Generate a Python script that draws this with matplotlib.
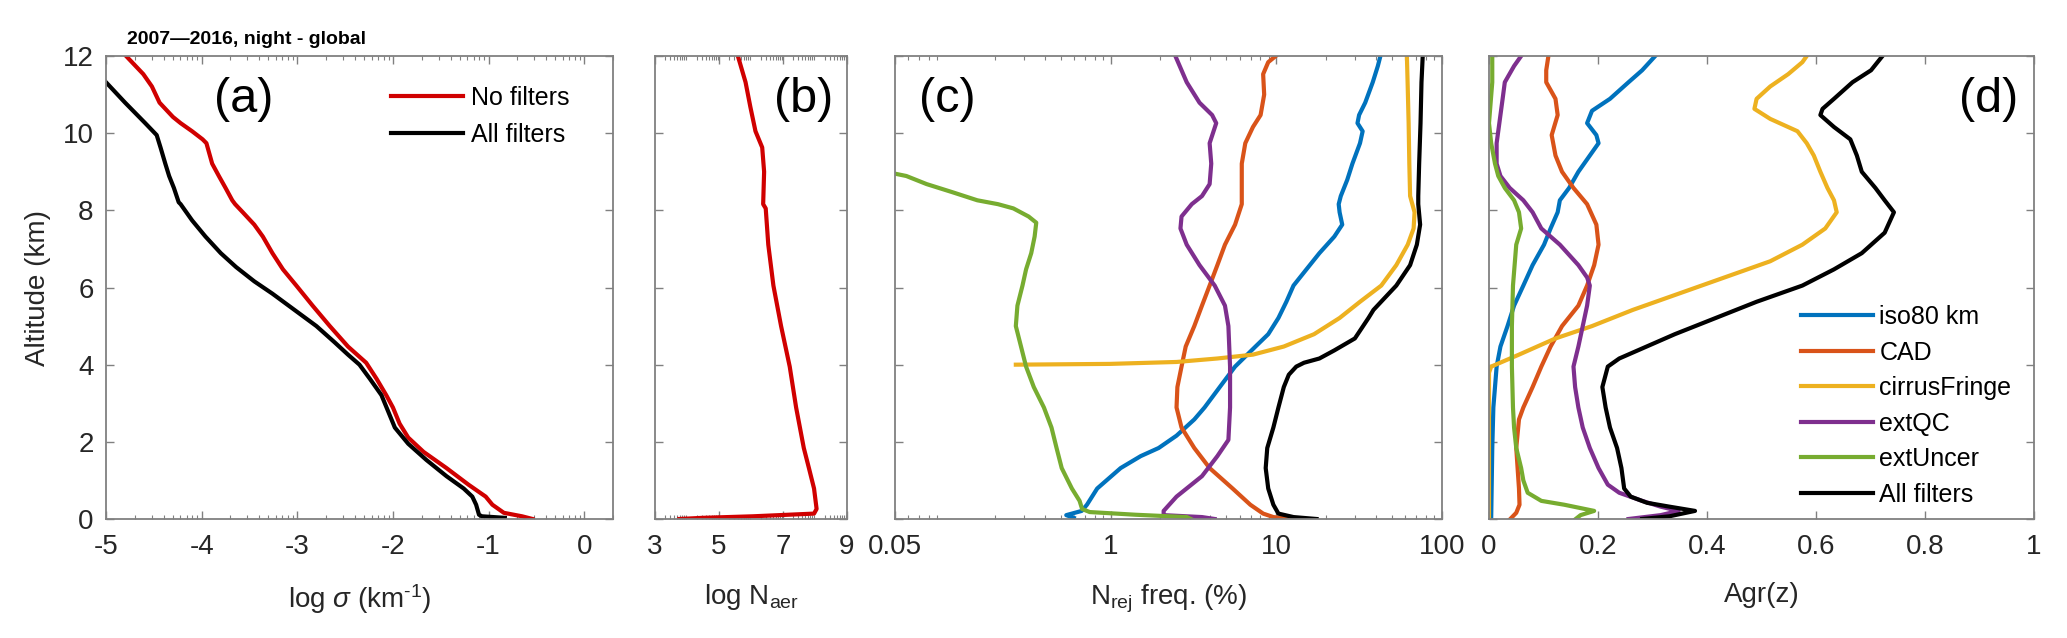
import numpy as np
import matplotlib
matplotlib.use("Agg")
import matplotlib.pyplot as plt
from matplotlib.ticker import LogLocator, NullFormatter, FixedLocator

plt.rcParams['font.family'] = ['Liberation Sans', 'DejaVu Sans']
plt.rcParams['mathtext.fontset'] = 'custom'
plt.rcParams['mathtext.rm'] = 'Liberation Sans'
plt.rcParams['mathtext.it'] = 'Liberation Sans:italic'
plt.rcParams['mathtext.bf'] = 'Liberation Sans:bold'

# ---------------- DATA ----------------
# (a) log10 extinction (km-1) vs altitude
a_nofilt_alt = [12.0, 11.53, 11.21, 10.79, 10.42, 10.26, 10.05, 9.84, 9.74, 9.21, 8.89, 8.58, 8.26, 8.16,
                7.95, 7.63, 7.32, 6.89, 6.47, 6.05, 5.53, 5.00, 4.47, 4.05, 3.63, 3.21, 2.89, 2.47, 2.11,
                1.74, 1.32, 0.89, 0.58, 0.37, 0.16, 0.07, 0.0]
a_nofilt_val = [-4.79, -4.61, -4.52, -4.44, -4.30, -4.22, -4.10, -3.99, -3.95, -3.89, -3.82, -3.75, -3.68, -3.65,
                -3.57, -3.45, -3.36, -3.26, -3.15, -3.01, -2.84, -2.66, -2.47, -2.28, -2.17, -2.07, -2.00, -1.93, -1.84,
                -1.68, -1.44, -1.21, -1.03, -0.96, -0.84, -0.65, -0.54]
a_allfilt_alt = [11.32, 10.79, 10.26, 9.95, 9.63, 9.21, 8.89, 8.58, 8.21, 8.16, 7.74, 7.32, 6.89, 6.53, 6.16,
                 5.84, 5.42, 5.00, 4.58, 4.26, 4.00, 3.63, 3.21, 2.79, 2.37, 1.95, 1.53, 1.11, 0.79, 0.58, 0.37,
                 0.11, 0.07, 0.03]
a_allfilt_val = [-5.0, -4.80, -4.59, -4.47, -4.43, -4.38, -4.34, -4.29, -4.24, -4.22, -4.10, -3.96, -3.80, -3.64, -3.45,
                 -3.26, -3.03, -2.80, -2.61, -2.47, -2.35, -2.24, -2.12, -2.05, -1.98, -1.84, -1.65, -1.44, -1.26, -1.17, -1.13,
                 -1.10, -1.07, -0.83]

# (b) log10 N_aer vs altitude
b_alt = [12.0, 11.32, 10.68, 10.05, 9.63, 9.0, 8.16, 8.05, 7.11, 6.05, 5.0, 3.95, 2.89, 1.84, 1.32, 0.79,
         0.26, 0.14, 0.07, 0.03, 0.0]
b_val = [5.59, 5.83, 5.98, 6.14, 6.35, 6.41, 6.38, 6.46, 6.54, 6.70, 6.94, 7.21, 7.41, 7.65, 7.81, 7.97,
         8.05, 7.97, 6.06, 4.48, 3.76]

# (c) rejection frequency (%) vs altitude
c_iso_alt = [12.0, 11.74, 11.32, 10.79, 10.47, 10.26, 10.05, 9.74, 9.21, 8.79, 8.37, 8.16, 7.95, 7.63, 7.32,
             6.89, 6.47, 6.05, 5.63, 5.21, 4.79, 4.47, 3.95, 3.42, 2.89, 2.58, 2.16, 1.84, 1.63, 1.32, 0.79,
             0.37, 0.21, 0.10, 0.03]
c_iso_val = [42.5, 41.0, 38.2, 34.4, 31.6, 30.9, 33.2, 32.0, 28.8, 26.8, 24.5, 23.8, 24.1, 25.0, 22.4,
             18.2, 15.2, 12.7, 11.5, 10.3, 8.94, 7.49, 5.64, 4.56, 3.69, 3.20, 2.50, 1.95, 1.52, 1.15, 0.83,
             0.72, 0.67, 0.54, 0.60]
c_cad_alt = [12.0, 11.84, 11.53, 11.0, 10.47, 10.16, 9.74, 9.21, 8.68, 8.16, 7.63, 7.11, 6.58, 6.05, 5.53,
             5.0, 4.47, 3.95, 3.42, 2.89, 2.37, 1.84, 1.32, 0.79, 0.37, 0.14, 0.05, 0.0]
c_cad_val = [9.93, 8.94, 8.33, 8.45, 8.04, 7.23, 6.50, 6.19, 6.19, 6.19, 5.64, 4.90, 4.41, 3.96, 3.56,
             3.20, 2.84, 2.68, 2.53, 2.50, 2.68, 3.20, 3.96, 5.45, 6.97, 8.33, 9.6, 12.3]
c_cf_alt = [12.0, 11.32, 10.26, 9.21, 8.37, 7.95, 7.53, 7.11, 6.58, 6.05, 5.63, 5.21, 4.79, 4.47, 4.26,
            4.16, 4.07, 4.02, 4.0]
c_cf_val = [61.4, 62.0, 62.9, 63.5, 64.2, 68.3, 67.4, 62.1, 53.0, 43.0, 32.0, 24.1, 16.9, 11.1, 7.23,
            4.41, 2.50, 0.99, 0.268]
c_qc_alt = [12.0, 11.32, 10.79, 10.47, 10.26, 9.74, 9.21, 8.68, 8.37, 8.16, 7.84, 7.53, 7.11, 6.58, 6.05,
            5.53, 5.0, 3.95, 2.89, 2.05, 1.63, 1.11, 0.58, 0.21, 0.10, 0.05, 0.0]
c_qc_val = [2.46, 2.88, 3.44, 4.10, 4.34, 3.96, 4.05, 3.96, 3.56, 3.09, 2.68, 2.64, 2.88, 3.44, 4.25,
            4.90, 5.14, 5.26, 5.26, 5.14, 4.41, 3.56, 2.50, 2.09, 2.09, 3.56, 4.25]
c_unc_alt = [8.95, 8.89, 8.68, 8.47, 8.26, 8.16, 8.05, 7.84, 7.68, 7.32, 6.89, 6.47, 6.05, 5.53, 5.0,
             4.47, 3.95, 3.42, 2.89, 2.37, 1.84, 1.32, 0.79, 0.47, 0.26, 0.18, 0.11, 0.05, 0.0]
c_unc_val = [0.05, 0.0585, 0.0776, 0.111, 0.157, 0.209, 0.259, 0.32, 0.356, 0.348, 0.332, 0.309, 0.294, 0.274, 0.268,
             0.288, 0.309, 0.344, 0.396, 0.44, 0.472, 0.507, 0.584, 0.65, 0.673, 0.748, 1.42, 2.88, 3.05]
c_all_alt = [12.0, 11.32, 10.26, 9.21, 8.37, 8.16, 7.63, 7.11, 6.58, 6.05, 5.42, 5.21, 4.68, 4.37, 4.16,
             4.05, 3.95, 3.74, 3.42, 2.89, 2.37, 1.84, 1.32, 0.79, 0.37, 0.14, 0.05, 0.0]
c_all_val = [76.5, 75.2, 74.2, 72.8, 71.9, 71.9, 73.8, 70.5, 64.2, 53.0, 38.6, 36.0, 29.8, 22.4, 18.2,
             14.7, 13.2, 11.9, 11.1, 10.3, 9.6, 8.82, 8.63, 8.94, 9.6, 10.3, 12.7, 17.5]

# (d) Agr(z) vs altitude
d_iso_alt = [12.0, 11.63, 11.32, 10.89, 10.58, 10.26, 9.95, 9.74, 9.42, 9.0, 8.58, 8.26, 7.95, 7.53, 7.11,
             6.58, 6.05, 5.53, 5.0, 4.47, 3.95, 2.89, 1.84, 0.0]
d_iso_val = [0.305, 0.281, 0.256, 0.222, 0.189, 0.180, 0.197, 0.201, 0.185, 0.164, 0.147, 0.130, 0.126, 0.113, 0.101,
             0.080, 0.063, 0.046, 0.034, 0.021, 0.014, 0.008, 0.006, 0.004]
d_cad_alt = [12.0, 11.63, 11.32, 10.89, 10.47, 9.95, 9.42, 9.0, 8.58, 8.16, 7.63, 7.11, 6.58, 6.05, 5.53,
             5.0, 4.47, 3.95, 3.42, 2.89, 2.58, 1.84, 0.79, 0.37, 0.16, 0.0]
d_cad_val = [0.109, 0.105, 0.105, 0.122, 0.126, 0.115, 0.122, 0.134, 0.155, 0.180, 0.197, 0.201, 0.193, 0.180, 0.164,
             0.134, 0.113, 0.096, 0.080, 0.063, 0.055, 0.050, 0.055, 0.056, 0.050, 0.039]
d_cf_alt = [12.0, 11.84, 11.53, 11.21, 10.89, 10.63, 10.37, 10.05, 9.74, 9.42, 9.0, 8.58, 8.26, 7.95, 7.53,
            7.11, 6.68, 6.26, 5.84, 5.42, 5.0, 4.68, 4.26, 3.95, 3.79, 0.0]
d_cf_val = [0.583, 0.575, 0.549, 0.516, 0.491, 0.487, 0.516, 0.566, 0.583, 0.596, 0.608, 0.621, 0.633, 0.638, 0.617,
            0.575, 0.516, 0.432, 0.348, 0.264, 0.189, 0.122, 0.055, 0.004, 0.0, 0.0]
d_qc_alt = [12.0, 11.74, 11.32, 10.89, 10.26, 9.74, 9.21, 8.89, 8.58, 8.26, 7.95, 7.53, 7.11, 6.58, 6.26,
            6.05, 5.53, 5.0, 4.47, 3.95, 3.42, 2.89, 2.37, 1.84, 1.32, 0.89, 0.68, 0.47, 0.32, 0.21, 0.10, 0.0]
d_qc_val = [0.059, 0.046, 0.029, 0.025, 0.019, 0.014, 0.014, 0.021, 0.038, 0.063, 0.080, 0.096, 0.130, 0.164, 0.180,
            0.185, 0.180, 0.172, 0.164, 0.155, 0.158, 0.164, 0.172, 0.185, 0.201, 0.218, 0.239, 0.281, 0.315, 0.348, 0.315, 0.256]
d_unc_alt = [12.0, 11.32, 10.79, 10.26, 9.74, 9.21, 8.89, 8.58, 8.26, 7.95, 7.53, 7.11, 6.05, 5.0, 3.95,
             2.89, 2.37, 1.84, 1.32, 1.0, 0.68, 0.47, 0.37, 0.21, 0.10, 0.0]
d_unc_val = [0.006, 0.006, 0.003, 0.0, 0.004, 0.011, 0.017, 0.029, 0.046, 0.055, 0.059, 0.050, 0.044, 0.042, 0.042,
             0.044, 0.046, 0.050, 0.059, 0.063, 0.071, 0.096, 0.138, 0.193, 0.168, 0.159]
d_all_alt = [12.0, 11.63, 11.32, 10.89, 10.63, 10.47, 10.16, 9.84, 9.42, 9.0, 8.58, 8.26, 7.95, 7.42, 6.89,
             6.47, 6.05, 5.63, 5.21, 4.79, 4.37, 4.16, 3.95, 3.42, 2.89, 2.37, 1.84, 1.32, 0.79, 0.58, 0.42,
             0.32, 0.21, 0.07, 0.0]
d_all_val = [0.722, 0.701, 0.667, 0.633, 0.612, 0.608, 0.633, 0.663, 0.675, 0.684, 0.709, 0.726, 0.743, 0.726, 0.684,
             0.633, 0.575, 0.491, 0.416, 0.341, 0.273, 0.239, 0.218, 0.208, 0.214, 0.222, 0.235, 0.243, 0.248, 0.260, 0.290,
             0.331, 0.378, 0.331, 0.281]

filter_names = ['iso80 km', 'CAD', 'cirrusFringe', 'extQC', 'extUncer', 'All filters']
filter_colors = ['#0072BD', '#D95319', '#EDB120', '#7E2F8E', '#77AC30', '#000000']
red = '#D00000'

a_ticks = [-5, -4, -3, -2, -1, 0]
b_ticks = [3, 5, 7, 9]
c_ticks = [0.05, 1, 10, 100]
c_ticklabels = ['0.05', '1', '10', '100']
d_ticks = [0, 0.2, 0.4, 0.6, 0.8, 1]
d_ticklabels = ['0', '0.2', '0.4', '0.6', '0.8', '1']
y_ticks = [0, 2, 4, 6, 8, 10, 12]

# ---------------- FIGURE ----------------
W, H = 2067, 638
fig = plt.figure(figsize=(W / 100, H / 100), dpi=100)

def frac(x0, x1, y0=56, y1=519):
    return [x0 / W, 1 - y1 / H, (x1 - x0) / W, (y1 - y0) / H]

axA = fig.add_axes(frac(106, 613))
axB = fig.add_axes(frac(655, 847))
axC = fig.add_axes(frac(895, 1442))
axD = fig.add_axes(frac(1489, 2034))

spine_col = '#808080'
lab_col = '#262626'
lw = 3.0
FS = 20
XLP = 16

for ax in (axA, axB, axC, axD):
    for s in ax.spines.values():
        s.set_color(spine_col)
        s.set_linewidth(1.3)
    ax.set_ylim(0, 12)
    ax.set_yticks(y_ticks)
    ax.tick_params(which='both', direction='in', top=True, right=True, color=spine_col,
                   labelcolor=lab_col, labelsize=FS)
    ax.tick_params(which='major', length=6, width=1.0)
    ax.tick_params(which='minor', length=3, width=0.8)
    ax.tick_params(axis='x', pad=11)
    ax.tick_params(axis='y', pad=9)

# (a)
axA.set_xscale('log')
axA.plot(10 ** np.array(a_nofilt_val), a_nofilt_alt, color=red, lw=lw, label='No filters')
axA.plot(10 ** np.array(a_allfilt_val), a_allfilt_alt, color='k', lw=lw, label='All filters')
axA.set_xlim(1e-5, 2)
axA.xaxis.set_major_locator(FixedLocator([10.0 ** t for t in a_ticks]))
axA.set_xticklabels([str(t) for t in a_ticks])
axA.xaxis.set_minor_locator(LogLocator(base=10, subs=np.arange(2, 10), numticks=100))
axA.xaxis.set_minor_formatter(NullFormatter())
axA.set_ylabel('Altitude (km)', fontsize=FS, color=lab_col, labelpad=8)
axA.set_xlabel(r'log $\mathit{\sigma}$ (km$^{\text{-1}}$)', fontsize=FS, color=lab_col, labelpad=XLP)
axA.text(0.271, 0.905, '(a)', transform=axA.transAxes, ha='center', va='center', fontsize=35)
axA.legend(loc='upper left', bbox_to_anchor=(0.562, 0.935), frameon=False, fontsize=18,
           handlelength=2.9, handletextpad=0.3, borderpad=0, borderaxespad=0, labelspacing=0.5)

# (b)
axB.set_xscale('log')
axB.plot(10 ** np.array(b_val), b_alt, color=red, lw=lw)
axB.set_xlim(1e3, 1e9)
axB.xaxis.set_major_locator(FixedLocator([10.0 ** t for t in b_ticks]))
axB.set_xticklabels([str(t) for t in b_ticks])
axB.xaxis.set_minor_locator(LogLocator(base=10, subs=np.arange(2, 10), numticks=100))
axB.xaxis.set_minor_formatter(NullFormatter())
axB.set_yticklabels([])
axB.set_xlabel(r'log N$_{\mathrm{aer}}$', fontsize=FS, color=lab_col, labelpad=XLP)
axB.text(0.775, 0.905, '(b)', transform=axB.transAxes, ha='center', va='center', fontsize=35)

# (c)
axC.set_xscale('log')
c_alts = [c_iso_alt, c_cad_alt, c_cf_alt, c_qc_alt, c_unc_alt, c_all_alt]
c_vals = [c_iso_val, c_cad_val, c_cf_val, c_qc_val, c_unc_val, c_all_val]
for al, v, col in zip(c_alts, c_vals, filter_colors):
    axC.plot(v, al, color=col, lw=lw)
axC.set_xlim(0.05, 100)
axC.xaxis.set_major_locator(FixedLocator(c_ticks))
axC.set_xticklabels(c_ticklabels)
axC.xaxis.set_minor_locator(LogLocator(base=10, subs=np.arange(2, 10), numticks=100))
axC.xaxis.set_minor_formatter(NullFormatter())
axC.set_yticklabels([])
axC.set_xlabel(r'N$_{\mathrm{rej}}$ freq. (%)', fontsize=FS, color=lab_col, labelpad=XLP)
axC.text(0.095, 0.905, '(c)', transform=axC.transAxes, ha='center', va='center', fontsize=35)

# (d)
d_alts = [d_iso_alt, d_cad_alt, d_cf_alt, d_qc_alt, d_unc_alt, d_all_alt]
d_vals = [d_iso_val, d_cad_val, d_cf_val, d_qc_val, d_unc_val, d_all_val]
for al, v, col, name in zip(d_alts, d_vals, filter_colors, filter_names):
    axD.plot(v, al, color=col, lw=lw, label=name)
axD.set_xlim(0, 1)
axD.set_xticks(d_ticks)
axD.set_xticklabels(d_ticklabels)
axD.set_yticklabels([])
axD.set_xlabel('Agr(z)', fontsize=FS, color=lab_col, labelpad=XLP)
axD.text(0.917, 0.905, '(d)', transform=axD.transAxes, ha='center', va='center', fontsize=35)
axD.legend(loc='upper left', bbox_to_anchor=(0.572, 0.462), frameon=False, fontsize=18,
           handlelength=2.9, handletextpad=0.25, borderpad=0, borderaxespad=0, labelspacing=0.46)

fig.text(127 / W, 1 - 44 / H, '2007\u20142016, night - global', fontsize=14, fontweight='bold',
         va='baseline', ha='left')

fig.savefig('out.png', dpi=100)
